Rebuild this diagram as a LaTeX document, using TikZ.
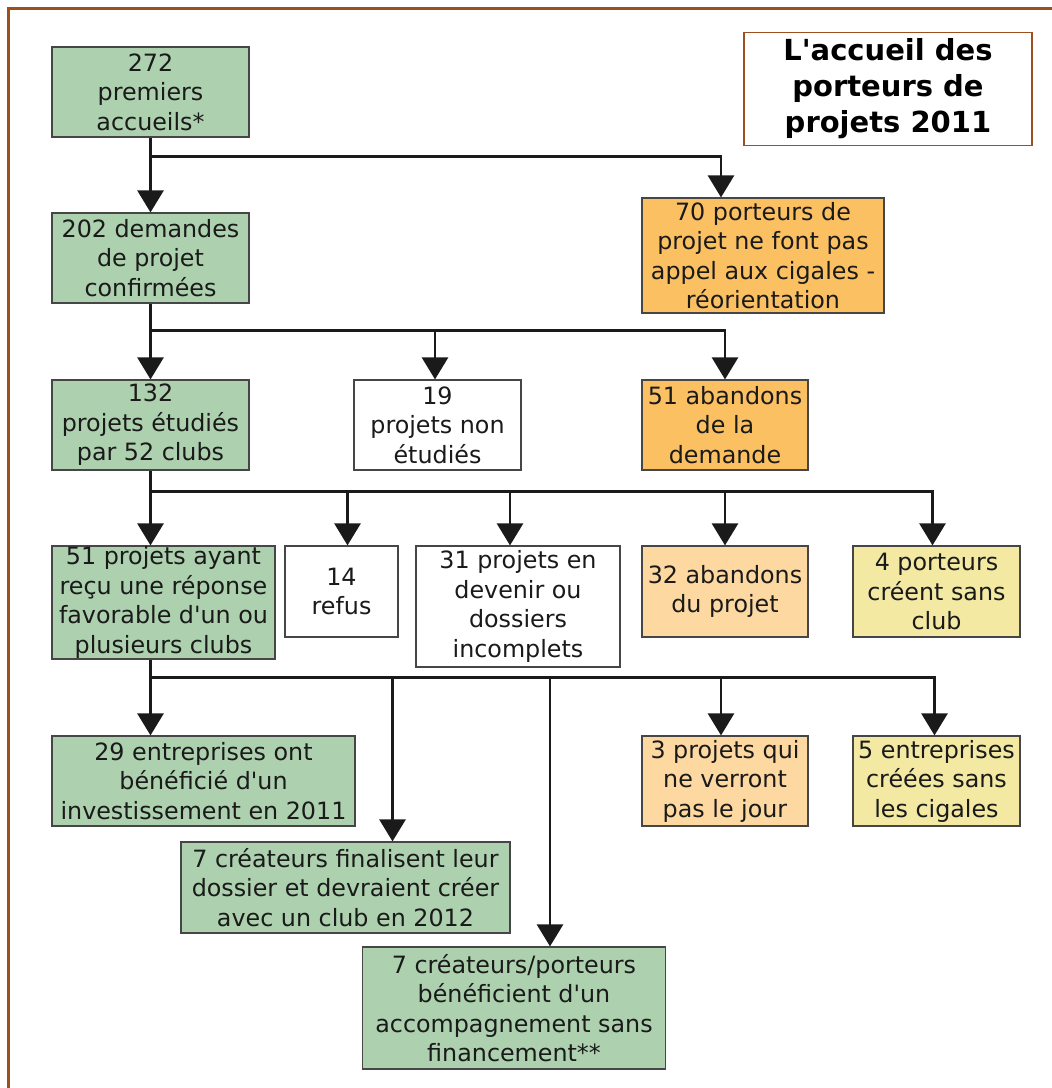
\documentclass[tikz,border=0pt]{standalone}
\usepackage{fontspec}
\setmainfont{DejaVu Sans}
\usetikzlibrary{arrows.meta}

\definecolor{boxgreen}{RGB}{173,209,174}
\definecolor{boxorange}{RGB}{251,192,98}
\definecolor{boxpeach}{RGB}{253,216,160}
\definecolor{boxyellow}{RGB}{243,233,163}
\definecolor{framebrown}{RGB}{155,80,30}
\definecolor{boxline}{RGB}{70,70,70}
\definecolor{linedark}{RGB}{26,26,26}

\newcommand{\apos}{\textquotesingle}

\begin{document}
\begin{tikzpicture}[x=1pt,y=-1pt,
    box/.style={draw=boxline, line width=1.2pt, text=linedark, align=center, inner sep=0pt,
                font={\fontsize{23.8}{29.5}\selectfont}},
    greenbox/.style={box, fill=boxgreen},
    orangebox/.style={box, fill=boxorange},
    peachbox/.style={box, fill=boxpeach},
    yellowbox/.style={box, fill=boxyellow},
    whitebox/.style={box, fill=white},
    wire/.style={draw=linedark, line width=2.8pt},
    link/.style={wire, -{Triangle[width=26pt,length=22pt]}}]

        \useasboundingbox (0,0) rectangle (1052,1088);

        %Frame
        \draw [framebrown, line width=3pt] (8.5,1088) -- (8.5,8.5) -- (1052,8.5);

        %Title
        \node [draw=framebrown, line width=1.3pt, fill=white, align=center, inner sep=0pt,
               minimum width=288pt, minimum height=113pt,
               font={\fontsize{29}{36}\selectfont\bfseries}] (titre) at (888,89)
              {L\apos accueil des\\porteurs de\\projets 2011};

        %First row
        \node [greenbox, minimum width=197pt, minimum height=90pt] (accueil) at (150.5,92)
              {272\\premiers\\accueils*};

        %Second row
        \node [greenbox, minimum width=197pt, minimum height=90pt] (demandes) at (150.5,258)
              {202 demandes\\de projet\\confirmées};
        \node [orangebox, minimum width=242pt, minimum height=115pt] (reorient) at (763,255.5)
              {70 porteurs de\\projet ne font pas\\appel aux cigales -\\réorientation};

        %Third row
        \node [greenbox, minimum width=197pt, minimum height=90pt] (etudies) at (150.5,425)
              {132\\projets étudiés\\par 52 clubs};
        \node [whitebox, minimum width=167pt, minimum height=90pt] (nonetud) at (437.5,425)
              {19\\projets non\\étudiés};
        \node [orangebox, minimum width=166pt, minimum height=90pt] (abandem) at (725,425)
              {51 abandons\\de la\\demande};

        %Fourth row
        \node [greenbox, minimum width=223pt, minimum height=113pt] (favorable) at (163.5,602.5)
              {51 projets ayant\\reçu une réponse\\favorable d\apos un ou\\plusieurs clubs};
        \node [whitebox, minimum width=113pt, minimum height=91pt] (refus) at (341.5,591.5)
              {14\\refus};
        \node [whitebox, minimum width=204pt, minimum height=121pt] (devenir) at (518,606.5)
              {31 projets en\\devenir ou\\dossiers\\incomplets};
        \node [peachbox, minimum width=166pt, minimum height=91pt] (abanproj) at (725,591.5)
              {32 abandons\\du projet};
        \node [yellowbox, minimum width=167pt, minimum height=91pt] (sansclub) at (936.5,591.5)
              {4 porteurs\\créent sans\\club};

        %Fifth row
        \node [greenbox, minimum width=303pt, minimum height=90pt] (invest) at (203.5,781)
              {29 entreprises ont\\bénéficié d\apos un\\investissement en 2011};
        \node [greenbox, minimum width=329pt, minimum height=91pt] (finalise) at (345.5,887.5)
              {7 créateurs finalisent leur\\dossier et devraient créer\\avec un club en 2012};
        \node [greenbox, minimum width=303pt, minimum height=122pt] (accomp) at (514,1008)
              {7 créateurs/porteurs\\bénéficient d\apos un\\accompagnement sans\\financement**};
        \node [peachbox, minimum width=166pt, minimum height=90pt] (jour) at (725,781)
              {3 projets qui\\ne verront\\pas le jour};
        \node [yellowbox, minimum width=167pt, minimum height=90pt] (sanscig) at (936.5,781)
              {5 entreprises\\créées sans\\les cigales};

        %Arrows from the first accueil
        \path (accueil.south) ++(0,19) coordinate (split1);
        \draw [link] (accueil.south) -- (demandes.north);
        \draw [link] (split1) -| ([xshift=-42pt]reorient.north);

        %Arrows from the demandes
        \path (demandes.south) ++(0,27) coordinate (split2);
        \draw [link] (demandes.south) -- (etudies.north);
        \draw [link] (split2) -| ([xshift=-2.5pt]nonetud.north);
        \draw [link] (split2) -| (abandem.north);

        %Arrows from the projets etudies
        \path (etudies.south) ++(0,21) coordinate (split3);
        \draw [link] (etudies.south) -- (etudies.south |- favorable.north);
        \draw [link] (split3) -| ([xshift=6pt]refus.north);
        \draw [link] (split3) -| ([xshift=-8pt]devenir.north);
        \draw [link] (split3) -| (abanproj.north);
        \draw [link] (split3) -| ([xshift=-4pt]sansclub.north);

        %Arrows from the reponses favorables
        \path (favorable.south -| etudies.south) coordinate (trunk4) ++(0,18) coordinate (split4);
        \draw [wire] (trunk4) -- (split4);
        \draw [link] (split4) -- (split4 |- invest.north);
        \draw [link] (split4) -| ([xshift=47pt]finalise.north);
        \draw [link] (split4) -| ([xshift=36pt]accomp.north);
        \draw [link] (split4) -| ([xshift=-4pt]jour.north);
        \draw [link] (split4) -| ([xshift=-2pt]sanscig.north);

      \end{tikzpicture}
\end{document}
